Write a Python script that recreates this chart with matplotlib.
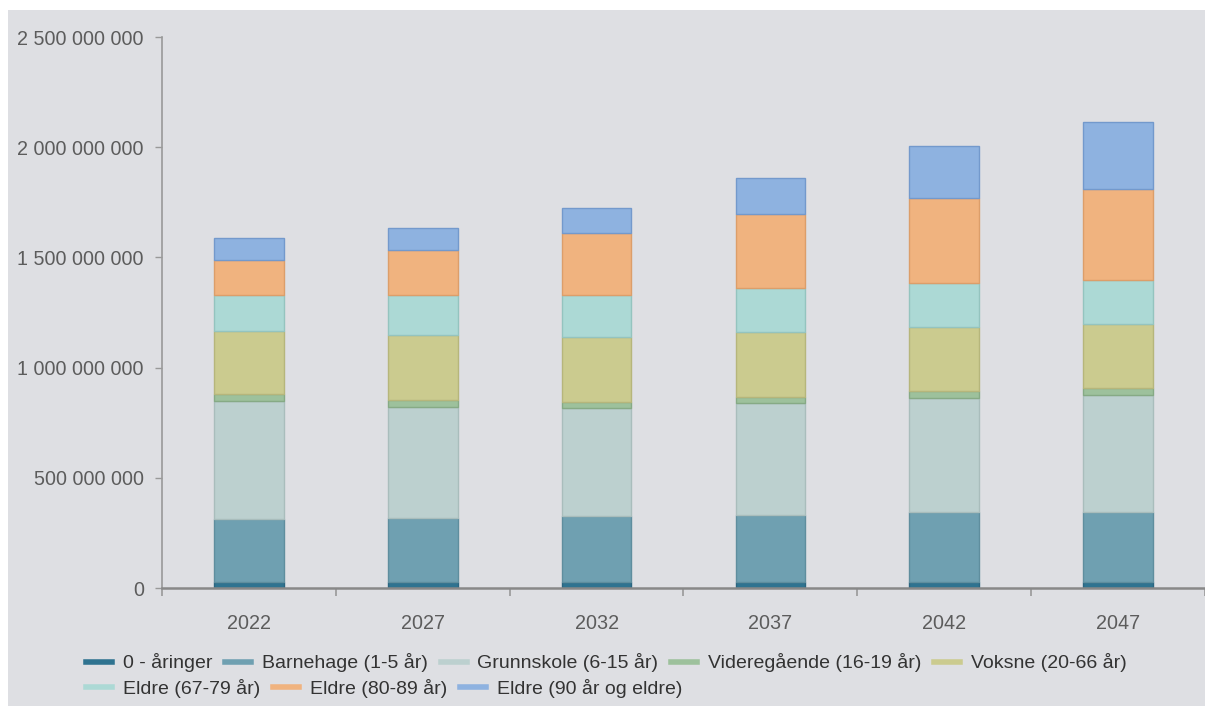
import matplotlib
matplotlib.use("Agg")
import matplotlib.pyplot as plt
import matplotlib.patches as mpatches
from matplotlib.lines import Line2D
from matplotlib.ticker import FuncFormatter, FixedLocator
import numpy as np

plt.rcParams['font.family'] = ['Liberation Sans', 'DejaVu Sans']

years = ['2022', '2027', '2032', '2037', '2042', '2047']
series_names = ['0 - åringer', 'Barnehage (1-5 år)', 'Grunnskole (6-15 år)',
                'Videregående (16-19 år)', 'Voksne (20-66 år)',
                'Eldre (67-79 år)', 'Eldre (80-89 år)', 'Eldre (90 år og eldre)']

# values in NOK
nullaringer   = [25e6, 25e6, 26e6, 26e6, 25e6, 25e6]
barnehage     = [288e6, 293e6, 299e6, 307e6, 319e6, 319e6]
grunnskole    = [536e6, 505e6, 492e6, 508e6, 518e6, 531e6]
videregaende  = [32e6, 30e6, 28e6, 27e6, 31e6, 34e6]
voksne        = [287e6, 293e6, 294e6, 293e6, 291e6, 290e6]
eldre_67_79   = [162e6, 183e6, 189e6, 199e6, 198e6, 197e6]
eldre_80_89   = [159e6, 205e6, 284e6, 336e6, 389e6, 416e6]
eldre_90      = [100e6, 98e6, 111e6, 166e6, 235e6, 303e6]

series = [nullaringer, barnehage, grunnskole, videregaende, voksne,
          eldre_67_79, eldre_80_89, eldre_90]
colors = ['#2f7390', '#6fa0b1', '#bcd0cf', '#9dc19c', '#cbcb8f',
          '#acd9d5', '#f0b37f', '#8eb2e0']
edges = ['#2a6580', '#5f8e9e', '#a9bdbc', '#86aa85', '#b6b67b',
         '#94c4bf', '#dc9e6a', '#7399cc']

W, H = 1205, 706
fig = plt.figure(figsize=(W/100, H/100), dpi=100)
fig.patch.set_facecolor('white')
bg = '#dedfe3'
fig.patches.append(mpatches.Rectangle((8/W, 0), 1 - 8/W, 1 - 10/H,
                                      transform=fig.transFigure,
                                      facecolor=bg, edgecolor='none', zorder=-10))

ax = fig.add_axes([162/W, (H-588)/H, (W-162)/W, 551/H])
ax.set_facecolor('none')

x = np.arange(len(years))
bottom = np.zeros(len(years))
for vals, c, ec in zip(series, colors, edges):
    v = np.array(vals)
    ax.bar(x, v, bottom=bottom, width=0.4, color=c, edgecolor=ec,
           linewidth=1.0, zorder=3)
    bottom += v

ax.set_xlim(-0.5, len(years) - 0.5)
ax.set_ylim(0, 2.5e9)
ax.set_yticks(np.arange(0, 2.5e9 + 1, 5e8))
ax.yaxis.set_major_formatter(FuncFormatter(lambda v, p: f"{int(v):,}".replace(",", " ")))

ax.set_xticks(x)
ax.set_xticklabels(years)
ax.xaxis.set_minor_locator(FixedLocator(np.arange(-0.5, len(years), 1.0)))

for s in ['top', 'right']:
    ax.spines[s].set_visible(False)
ax.spines['left'].set_color('#999999')
ax.spines['left'].set_linewidth(1.2)
ax.spines['bottom'].set_color('#888888')
ax.spines['bottom'].set_linewidth(1.8)
ax.spines['bottom'].set_zorder(4)

ax.tick_params(axis='y', which='major', length=5, width=1, color='#999999',
               labelsize=14.2, labelcolor='#5c5c5c', pad=8)
ax.tick_params(axis='x', which='major', length=0, labelsize=14.2,
               labelcolor='#5c5c5c', pad=19)
ax.tick_params(axis='x', which='minor', length=6, width=1.2, color='#999999')

handles = [Line2D([0], [0], color=c, lw=4) for c in colors]

leg_kw = dict(frameon=False, fontsize=14, handlelength=1.35, handletextpad=0.55,
              columnspacing=0.65, borderpad=0, borderaxespad=0,
              labelcolor='#333333', loc='center left')
leg1 = fig.legend(handles[:5], series_names[:5], ncol=5,
                  bbox_to_anchor=(86/W, 1 - 663/H), **leg_kw)
leg2 = fig.legend(handles[5:], series_names[5:], ncol=3,
                  bbox_to_anchor=(86/W, 1 - 688/H), **leg_kw)

fig.savefig('out.png', dpi=100, facecolor=fig.get_facecolor())
